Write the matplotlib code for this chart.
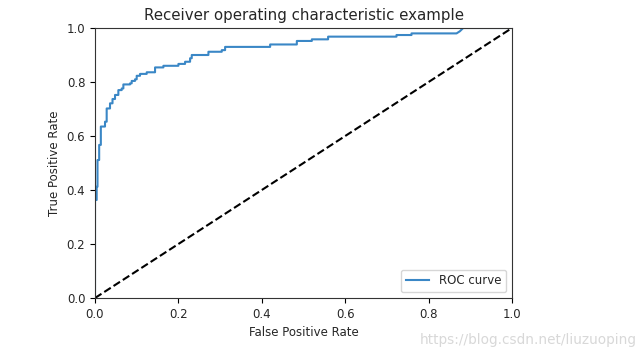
import matplotlib
matplotlib.use('Agg')
import matplotlib.pyplot as plt

# ROC points (staircase corners)
fpr = [0.0, 0.0, 0.004, 0.004, 0.006, 0.006, 0.010, 0.010, 0.014, 0.014, 0.024, 0.024,
       0.028, 0.028, 0.036, 0.036, 0.042, 0.042, 0.048, 0.048, 0.056, 0.056, 0.064, 0.064,
       0.068, 0.068, 0.084, 0.084, 0.088, 0.088, 0.096, 0.096, 0.100, 0.100, 0.108, 0.108,
       0.124, 0.124, 0.144, 0.144, 0.164, 0.164, 0.200, 0.200, 0.216, 0.216, 0.228, 0.228,
       0.232, 0.232, 0.272, 0.272, 0.304, 0.304, 0.312, 0.312, 0.420, 0.420, 0.484, 0.484,
       0.520, 0.520, 0.559, 0.559, 0.723, 0.723, 0.759, 0.759, 0.867, 0.875, 0.883, 1.0]
tpr = [0.0, 0.363, 0.363, 0.412, 0.412, 0.511, 0.511, 0.567, 0.567, 0.635, 0.635, 0.653,
       0.653, 0.702, 0.702, 0.721, 0.721, 0.737, 0.737, 0.752, 0.752, 0.770, 0.770, 0.776,
       0.776, 0.791, 0.791, 0.795, 0.795, 0.804, 0.804, 0.810, 0.810, 0.823, 0.823, 0.830,
       0.830, 0.836, 0.836, 0.854, 0.854, 0.860, 0.860, 0.867, 0.867, 0.875, 0.875, 0.888,
       0.888, 0.900, 0.900, 0.912, 0.912, 0.918, 0.918, 0.930, 0.930, 0.939, 0.939, 0.952,
       0.952, 0.958, 0.958, 0.968, 0.968, 0.974, 0.974, 0.980, 0.980, 0.988, 1.0, 1.0]

plt.rcParams['text.color'] = '#262626'
plt.rcParams['xtick.labelcolor'] = '#262626'
plt.rcParams['ytick.labelcolor'] = '#262626'
plt.rcParams['axes.labelcolor'] = '#262626'

fig = plt.figure(figsize=(6.44, 3.6), dpi=100)
ax = fig.add_axes([95 / 644, 62 / 360, 417 / 644, 270 / 360])

ax.plot(fpr, tpr, color='#3a87c6', linewidth=1.5, label='ROC curve')
ax.plot([0, 1], [0, 1], 'k--', linewidth=1.5)
ax.set_xlim([0.0, 1.0])
ax.set_ylim([0.0, 1.0])
ax.set_xlabel('False Positive Rate', fontsize=8.5)
ax.set_ylabel('True Positive Rate', fontsize=8.5)
ax.set_title('Receiver operating characteristic example', fontsize=10.8)
ax.tick_params(labelsize=8.5)
for s in ax.spines.values():
    s.set_color('#333333')
ax.legend(loc='lower right', fontsize=8.5)

fig.text(0.988, 0.035, 'https://blog.csdn.net/liuzuoping', ha='right', va='bottom',
         fontsize=9.8, color='#d8d8d8')

fig.savefig('out.png', dpi=100)
